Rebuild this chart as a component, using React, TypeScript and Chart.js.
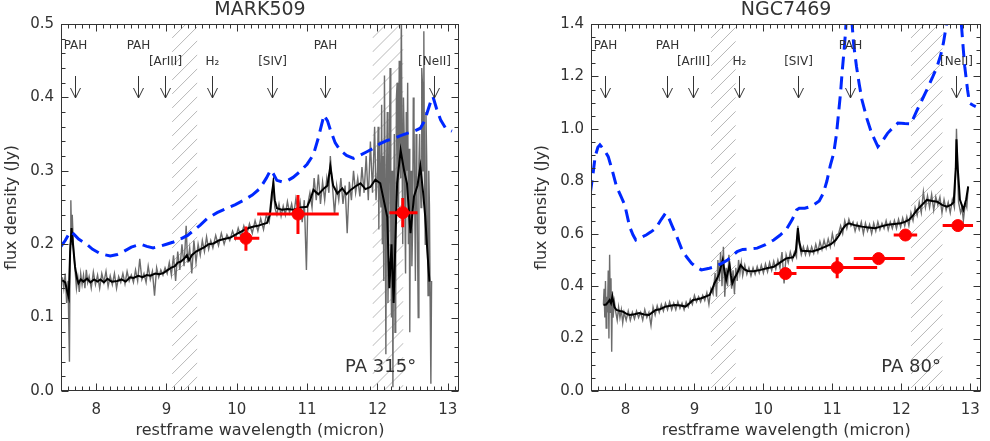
import { useEffect, useRef } from 'react';
import { Chart, registerables } from 'chart.js';

Chart.register(...registerables);

const FONT = '"DejaVu Sans", sans-serif';
const INK = '#333333';
const RED = '#ff0000';
const BLUE = 'rgb(0, 40, 255)';

type Pair = [number, number];

// marked spectral features (micron)
const featureNames = ['PAH', 'PAH', '[ArIII]', 'H₂', '[SIV]', 'PAH', '[NeII]'];
const featureWaves = [7.7, 8.6, 8.98, 9.65, 10.5, 11.25, 12.8];

const xTickLabels = [8, 9, 10, 11, 12, 13];

// ---------------- MARK509 ----------------
const mrkHatch: Pair[] = [[9.08, 9.44], [11.93, 12.37]];

// raw spectrum (grey)
const mrkRaw: Pair[] = [
  [7.52, 0.155], [7.54, 0.14], [7.56, 0.16], [7.58, 0.12], [7.6, 0.15], [7.62, 0.04], [7.63, 0.2],
  [7.64, 0.26], [7.65, 0.21], [7.66, 0.24], [7.68, 0.19], [7.7, 0.165], [7.72, 0.14], [7.74, 0.155],
  [7.76, 0.135], [7.78, 0.16], [7.8, 0.145], [7.82, 0.158], [7.84, 0.14], [7.86, 0.165], [7.88, 0.148],
  [7.9, 0.156], [7.93, 0.14], [7.96, 0.162], [7.99, 0.145], [8.02, 0.158], [8.05, 0.14], [8.08, 0.16],
  [8.11, 0.148], [8.14, 0.163], [8.17, 0.142], [8.2, 0.157], [8.23, 0.145], [8.26, 0.16], [8.29, 0.14],
  [8.32, 0.156], [8.35, 0.148], [8.38, 0.16], [8.41, 0.146], [8.44, 0.163], [8.47, 0.15], [8.5, 0.158],
  [8.53, 0.148], [8.56, 0.165], [8.59, 0.15], [8.62, 0.18], [8.65, 0.152], [8.68, 0.16], [8.71, 0.148],
  [8.74, 0.17], [8.77, 0.152], [8.8, 0.163], [8.83, 0.13], [8.86, 0.168], [8.89, 0.155], [8.92, 0.165],
  [8.95, 0.158], [8.98, 0.168], [9.01, 0.16], [9.04, 0.175], [9.07, 0.158], [9.1, 0.185], [9.13, 0.15],
  [9.16, 0.19], [9.19, 0.165], [9.22, 0.2], [9.25, 0.17], [9.28, 0.225], [9.3, 0.175], [9.33, 0.195],
  [9.36, 0.16], [9.39, 0.205], [9.42, 0.175], [9.45, 0.2], [9.48, 0.185], [9.51, 0.205], [9.54, 0.19],
  [9.57, 0.21], [9.6, 0.193], [9.63, 0.205], [9.66, 0.195], [9.7, 0.212], [9.74, 0.198], [9.78, 0.215],
  [9.82, 0.2], [9.86, 0.213], [9.9, 0.205], [9.94, 0.218], [9.98, 0.207], [10.02, 0.222], [10.06, 0.21],
  [10.1, 0.225], [10.14, 0.212], [10.18, 0.228], [10.22, 0.215], [10.26, 0.232], [10.3, 0.218],
  [10.34, 0.235], [10.38, 0.22], [10.42, 0.24], [10.46, 0.23], [10.5, 0.26], [10.52, 0.29], [10.54, 0.25],
  [10.57, 0.24], [10.6, 0.255], [10.63, 0.238], [10.66, 0.252], [10.69, 0.24], [10.72, 0.258],
  [10.75, 0.243], [10.78, 0.255], [10.81, 0.24], [10.84, 0.262], [10.87, 0.245], [10.9, 0.258],
  [10.93, 0.23], [10.96, 0.26], [10.99, 0.165], [11.01, 0.255], [11.04, 0.27], [11.07, 0.25], [11.1, 0.29],
  [11.13, 0.26], [11.16, 0.295], [11.19, 0.255], [11.22, 0.285], [11.25, 0.26], [11.28, 0.29], [11.31, 0.27],
  [11.33, 0.32], [11.36, 0.28], [11.39, 0.24], [11.42, 0.28], [11.45, 0.26], [11.48, 0.29], [11.51, 0.255],
  [11.54, 0.28], [11.57, 0.215], [11.6, 0.285], [11.63, 0.26], [11.66, 0.3], [11.69, 0.27], [11.72, 0.29],
  [11.75, 0.265], [11.78, 0.305], [11.81, 0.27], [11.84, 0.32], [11.87, 0.26], [11.9, 0.34], [11.93, 0.27],
  [11.96, 0.36], [11.98, 0.26], [12.0, 0.3], [12.01, 0.36], [12.02, 0.22], [12.03, 0.34], [12.04, 0.27],
  [12.05, 0.25], [12.06, 0.39], [12.07, 0.2], [12.08, 0.32], [12.09, 0.15], [12.1, 0.43], [12.11, 0.28],
  [12.12, 0.05], [12.13, 0.3], [12.14, 0.38], [12.15, 0.12], [12.16, 0.2], [12.17, 0.32], [12.18, 0.44],
  [12.19, 0.22], [12.2, 0.1], [12.21, 0.3], [12.22, 0.005], [12.23, 0.25], [12.24, 0.35], [12.25, 0.08],
  [12.26, 0.18], [12.27, 0.4], [12.28, 0.42], [12.29, 0.3], [12.3, 0.25], [12.31, 0.45], [12.32, 0.38],
  [12.33, 0.29], [12.34, 0.52], [12.35, 0.33], [12.36, 0.2], [12.37, 0.4], [12.38, 0.35], [12.39, 0.25],
  [12.4, 0.16], [12.41, 0.38], [12.42, 0.3], [12.43, 0.42], [12.44, 0.2], [12.45, 0.33], [12.46, 0.08],
  [12.47, 0.27], [12.48, 0.3], [12.49, 0.17], [12.5, 0.22], [12.51, 0.4], [12.52, 0.37], [12.53, 0.26],
  [12.54, 0.15], [12.55, 0.35], [12.56, 0.3], [12.57, 0.2], [12.58, 0.1], [12.59, 0.31], [12.6, 0.35],
  [12.61, 0.28], [12.62, 0.25], [12.63, 0.44], [12.64, 0.42], [12.65, 0.3], [12.66, 0.49], [12.67, 0.27],
  [12.68, 0.2], [12.69, 0.38], [12.7, 0.32], [12.71, 0.22], [12.72, 0.13], [12.73, 0.3], [12.74, 0.25],
  [12.75, 0.12], [12.76, 0.01], [12.77, 0.15],
];

// smoothed spectrum (black)
const mrkSmooth: Pair[] = [
  [7.52, 0.151], [7.56, 0.148], [7.59, 0.135], [7.61, 0.128], [7.63, 0.19], [7.65, 0.222], [7.67, 0.2],
  [7.7, 0.169], [7.73, 0.152], [7.75, 0.147], [7.78, 0.152], [7.82, 0.149], [7.87, 0.153], [7.92, 0.148],
  [7.97, 0.152], [8.02, 0.149], [8.06, 0.152], [8.11, 0.148], [8.16, 0.153], [8.22, 0.149], [8.3, 0.15],
  [8.36, 0.152], [8.42, 0.149], [8.48, 0.155], [8.53, 0.154], [8.6, 0.157], [8.66, 0.155], [8.72, 0.158],
  [8.77, 0.157], [8.84, 0.16], [8.9, 0.159], [8.96, 0.161], [9.02, 0.165], [9.07, 0.168], [9.12, 0.17],
  [9.16, 0.175], [9.2, 0.176], [9.25, 0.18], [9.29, 0.185], [9.32, 0.178], [9.36, 0.185], [9.42, 0.19],
  [9.48, 0.193], [9.54, 0.196], [9.6, 0.2], [9.67, 0.201], [9.74, 0.205], [9.82, 0.207], [9.91, 0.209],
  [10.0, 0.214], [10.1, 0.219], [10.17, 0.222], [10.24, 0.224], [10.3, 0.225], [10.36, 0.227],
  [10.43, 0.229], [10.47, 0.24], [10.5, 0.27], [10.52, 0.283], [10.54, 0.26], [10.57, 0.249],
  [10.64, 0.247], [10.72, 0.248], [10.81, 0.247], [10.9, 0.25], [11.0, 0.251], [11.05, 0.262],
  [11.09, 0.274], [11.16, 0.268], [11.24, 0.276], [11.29, 0.28], [11.33, 0.306], [11.37, 0.28],
  [11.43, 0.269], [11.5, 0.276], [11.56, 0.268], [11.62, 0.274], [11.69, 0.279], [11.76, 0.283],
  [11.83, 0.275], [11.9, 0.278], [11.97, 0.288], [12.04, 0.283], [12.09, 0.26], [12.14, 0.237],
  [12.17, 0.14], [12.2, 0.2], [12.23, 0.12], [12.28, 0.283], [12.33, 0.328], [12.38, 0.3], [12.42, 0.283],
  [12.47, 0.215], [12.52, 0.265], [12.57, 0.28], [12.61, 0.306], [12.65, 0.27], [12.68, 0.237],
  [12.71, 0.19], [12.74, 0.149],
];

// model (blue dashed)
const mrkModel: Pair[] = [
  [7.5, 0.197], [7.56, 0.205], [7.63, 0.217], [7.68, 0.214], [7.75, 0.207], [7.85, 0.201], [7.95, 0.193],
  [8.06, 0.187], [8.2, 0.184], [8.3, 0.186], [8.39, 0.19], [8.5, 0.196], [8.63, 0.2], [8.72, 0.197],
  [8.81, 0.195], [8.9, 0.197], [9.0, 0.2], [9.1, 0.203], [9.2, 0.207], [9.3, 0.212], [9.39, 0.219],
  [9.48, 0.226], [9.58, 0.235], [9.72, 0.243], [9.86, 0.249], [9.98, 0.254], [10.1, 0.26], [10.22, 0.267],
  [10.33, 0.276], [10.42, 0.29], [10.48, 0.301], [10.52, 0.296], [10.57, 0.287], [10.64, 0.285],
  [10.71, 0.286], [10.8, 0.291], [10.9, 0.299], [11.0, 0.309], [11.09, 0.322], [11.16, 0.345],
  [11.24, 0.376], [11.29, 0.368], [11.33, 0.356], [11.4, 0.338], [11.47, 0.328], [11.56, 0.321],
  [11.66, 0.317], [11.75, 0.321], [11.85, 0.326], [11.95, 0.331], [12.04, 0.337], [12.13, 0.341],
  [12.23, 0.344], [12.33, 0.348], [12.42, 0.351], [12.52, 0.354], [12.61, 0.358], [12.67, 0.368],
  [12.71, 0.38], [12.76, 0.395], [12.79, 0.401], [12.84, 0.385], [12.9, 0.369], [12.97, 0.358],
  [13.06, 0.354],
];

// photometry (red)
const mrkPhotWave = [10.13, 10.87, 12.36];
const mrkPhotFlux = [0.208, 0.241, 0.243];
const mrkPhotWaveLo = [9.96, 10.29, 12.17];
const mrkPhotWaveHi = [10.32, 11.45, 12.57];
const mrkPhotFluxLo = [0.191, 0.214, 0.223];
const mrkPhotFluxHi = [0.224, 0.267, 0.263];

// ---------------- NGC7469 ----------------
const ngcHatch: Pair[] = [[9.24, 9.6], [12.14, 12.6]];

const ngcRaw: Pair[] = [
  [7.68, 0.33], [7.69, 0.39], [7.7, 0.28], [7.71, 0.42], [7.72, 0.24], [7.73, 0.36], [7.74, 0.3],
  [7.75, 0.46], [7.76, 0.2], [7.77, 0.52], [7.78, 0.3], [7.79, 0.43], [7.8, 0.15], [7.81, 0.38],
  [7.82, 0.28], [7.84, 0.34], [7.86, 0.3], [7.88, 0.27], [7.9, 0.32], [7.92, 0.28], [7.94, 0.31],
  [7.96, 0.26], [7.98, 0.3], [8.01, 0.27], [8.04, 0.305], [8.07, 0.27], [8.1, 0.3], [8.13, 0.275],
  [8.16, 0.305], [8.19, 0.28], [8.22, 0.3], [8.25, 0.27], [8.28, 0.31], [8.31, 0.28], [8.34, 0.3],
  [8.37, 0.25], [8.4, 0.32], [8.43, 0.29], [8.46, 0.325], [8.49, 0.3], [8.52, 0.33], [8.55, 0.305],
  [8.58, 0.335], [8.61, 0.31], [8.64, 0.34], [8.67, 0.31], [8.7, 0.335], [8.73, 0.31], [8.76, 0.34],
  [8.79, 0.315], [8.82, 0.335], [8.85, 0.31], [8.88, 0.34], [8.91, 0.32], [8.94, 0.35], [8.97, 0.33],
  [9.0, 0.365], [9.03, 0.34], [9.06, 0.36], [9.09, 0.34], [9.12, 0.365], [9.15, 0.345], [9.18, 0.375],
  [9.21, 0.33], [9.24, 0.39], [9.27, 0.37], [9.3, 0.45], [9.32, 0.36], [9.34, 0.5], [9.36, 0.42],
  [9.38, 0.53], [9.4, 0.4], [9.42, 0.55], [9.44, 0.36], [9.46, 0.47], [9.48, 0.4], [9.5, 0.52],
  [9.52, 0.44], [9.54, 0.39], [9.56, 0.46], [9.58, 0.37], [9.6, 0.47], [9.62, 0.42], [9.64, 0.5],
  [9.66, 0.45], [9.68, 0.49], [9.7, 0.44], [9.73, 0.48], [9.76, 0.445], [9.79, 0.47], [9.82, 0.44],
  [9.85, 0.47], [9.88, 0.445], [9.91, 0.475], [9.94, 0.45], [9.97, 0.48], [10.0, 0.45], [10.03, 0.485],
  [10.06, 0.455], [10.09, 0.49], [10.12, 0.46], [10.15, 0.495], [10.18, 0.465], [10.21, 0.5],
  [10.24, 0.47], [10.27, 0.53], [10.3, 0.41], [10.33, 0.52], [10.36, 0.49], [10.39, 0.53], [10.42, 0.5],
  [10.45, 0.53], [10.48, 0.51], [10.5, 0.63], [10.52, 0.56], [10.55, 0.52], [10.58, 0.55], [10.61, 0.52],
  [10.64, 0.55], [10.67, 0.52], [10.7, 0.55], [10.73, 0.525], [10.76, 0.56], [10.79, 0.53], [10.82, 0.57],
  [10.85, 0.54], [10.88, 0.575], [10.91, 0.545], [10.94, 0.58], [10.97, 0.55], [11.0, 0.6], [11.03, 0.56],
  [11.06, 0.595], [11.09, 0.6], [11.12, 0.63], [11.15, 0.6], [11.18, 0.65], [11.21, 0.62], [11.24, 0.655],
  [11.27, 0.63], [11.3, 0.645], [11.33, 0.61], [11.36, 0.64], [11.39, 0.615], [11.42, 0.645], [11.45, 0.6],
  [11.48, 0.64], [11.51, 0.61], [11.54, 0.635], [11.57, 0.6], [11.6, 0.64], [11.63, 0.61], [11.66, 0.645],
  [11.69, 0.615], [11.72, 0.64], [11.75, 0.62], [11.78, 0.65], [11.81, 0.615], [11.84, 0.645],
  [11.87, 0.62], [11.9, 0.65], [11.93, 0.62], [11.96, 0.655], [11.99, 0.625], [12.02, 0.66], [12.05, 0.63],
  [12.08, 0.665], [12.11, 0.63], [12.14, 0.68], [12.17, 0.65], [12.2, 0.7], [12.23, 0.67], [12.26, 0.72],
  [12.29, 0.68], [12.32, 0.76], [12.35, 0.7], [12.38, 0.745], [12.41, 0.7], [12.44, 0.75], [12.47, 0.69],
  [12.5, 0.74], [12.53, 0.71], [12.56, 0.74], [12.59, 0.68], [12.62, 0.73], [12.65, 0.69], [12.68, 0.72],
  [12.71, 0.68], [12.74, 0.73], [12.77, 0.7], [12.79, 0.85], [12.8, 1.0], [12.81, 0.9], [12.83, 0.72],
  [12.86, 0.68], [12.88, 0.7], [12.9, 0.65], [12.93, 0.72], [12.95, 0.7], [12.97, 0.78],
];

const ngcSmooth: Pair[] = [
  [7.68, 0.328], [7.72, 0.33], [7.75, 0.34], [7.77, 0.347], [7.79, 0.335], [7.81, 0.36], [7.84, 0.32],
  [7.87, 0.309], [7.92, 0.305], [7.96, 0.303], [8.01, 0.295], [8.06, 0.29], [8.13, 0.293], [8.2, 0.297],
  [8.27, 0.292], [8.34, 0.29], [8.39, 0.3], [8.44, 0.309], [8.5, 0.312], [8.58, 0.322], [8.65, 0.325],
  [8.72, 0.328], [8.8, 0.326], [8.87, 0.322], [8.93, 0.335], [8.98, 0.347], [9.04, 0.35], [9.1, 0.354],
  [9.16, 0.36], [9.22, 0.366], [9.26, 0.39], [9.29, 0.411], [9.33, 0.43], [9.36, 0.449], [9.38, 0.47],
  [9.41, 0.5], [9.44, 0.45], [9.46, 0.424], [9.49, 0.46], [9.51, 0.481], [9.53, 0.44], [9.55, 0.411],
  [9.58, 0.43], [9.62, 0.449], [9.67, 0.48], [9.72, 0.465], [9.77, 0.458], [9.86, 0.457], [9.96, 0.462],
  [10.05, 0.468], [10.15, 0.474], [10.24, 0.49], [10.33, 0.506], [10.43, 0.51], [10.47, 0.53],
  [10.5, 0.621], [10.52, 0.57], [10.55, 0.535], [10.63, 0.534], [10.71, 0.532], [10.8, 0.54],
  [10.9, 0.551], [10.98, 0.56], [11.05, 0.576], [11.1, 0.595], [11.14, 0.615], [11.19, 0.632],
  [11.24, 0.64], [11.33, 0.632], [11.43, 0.627], [11.52, 0.624], [11.62, 0.621], [11.71, 0.628],
  [11.8, 0.634], [11.9, 0.637], [11.99, 0.64], [12.05, 0.645], [12.11, 0.653], [12.17, 0.67],
  [12.23, 0.691], [12.3, 0.71], [12.37, 0.729], [12.45, 0.725], [12.52, 0.722], [12.59, 0.71],
  [12.66, 0.703], [12.72, 0.71], [12.76, 0.72], [12.79, 0.85], [12.8, 0.96], [12.82, 0.844],
  [12.85, 0.73], [12.9, 0.691], [12.94, 0.73], [12.97, 0.78],
];

const ngcModel: Pair[] = [
  [7.49, 0.755], [7.53, 0.83], [7.56, 0.894], [7.6, 0.93], [7.63, 0.939], [7.69, 0.92], [7.75, 0.894],
  [7.81, 0.84], [7.87, 0.78], [7.93, 0.745], [7.99, 0.71], [8.06, 0.627], [8.11, 0.595], [8.15, 0.576],
  [8.22, 0.585], [8.3, 0.595], [8.37, 0.607], [8.44, 0.621], [8.52, 0.655], [8.58, 0.678], [8.62, 0.665],
  [8.67, 0.634], [8.75, 0.585], [8.82, 0.538], [8.89, 0.51], [8.96, 0.487], [9.03, 0.472], [9.1, 0.462],
  [9.2, 0.467], [9.29, 0.474], [9.39, 0.486], [9.48, 0.5], [9.55, 0.515], [9.62, 0.532], [9.7, 0.54],
  [9.8, 0.542], [9.91, 0.545], [10.03, 0.558], [10.15, 0.576], [10.24, 0.594], [10.33, 0.615],
  [10.42, 0.655], [10.48, 0.69], [10.52, 0.697], [10.6, 0.697], [10.7, 0.705], [10.81, 0.725],
  [10.87, 0.755], [10.92, 0.8], [10.97, 0.86], [11.02, 0.907], [11.06, 0.98], [11.09, 1.06], [11.12, 1.14],
  [11.14, 1.21], [11.17, 1.3], [11.19, 1.365], [11.22, 1.5], [11.25, 1.55], [11.28, 1.42], [11.31, 1.32],
  [11.35, 1.238], [11.39, 1.17], [11.43, 1.11], [11.5, 1.04], [11.57, 0.983], [11.62, 0.955],
  [11.66, 0.932], [11.73, 0.955], [11.8, 0.983], [11.88, 1.005], [11.95, 1.022], [12.05, 1.02],
  [12.14, 1.019], [12.23, 1.072], [12.3, 1.11], [12.37, 1.149], [12.45, 1.195], [12.52, 1.238],
  [12.57, 1.28], [12.61, 1.327], [12.65, 1.39], [12.68, 1.45], [12.72, 1.6], [12.78, 1.7], [12.84, 1.6],
  [12.87, 1.403], [12.9, 1.3], [12.92, 1.238], [12.96, 1.15], [12.99, 1.098], [13.04, 1.09],
  [13.08, 1.085],
];

const ngcPhotWave = [10.32, 11.07, 11.67, 12.06, 12.82];
const ngcPhotFlux = [0.448, 0.471, 0.505, 0.595, 0.631];
const ngcPhotWaveLo = [10.15, 10.48, 11.31, 11.89, 12.6];
const ngcPhotWaveHi = [10.48, 11.65, 12.05, 12.23, 13.04];
const ngcPhotFluxLo = [0.44, 0.43, 0.495, 0.595, 0.631];
const ngcPhotFluxHi = [0.455, 0.51, 0.515, 0.595, 0.631];

interface PanelSpec {
  title: string;
  yMax: number;
  yStep: number;
  yMinor: number;
  hatch: Pair[];
  raw: Pair[];
  smooth: Pair[];
  model: Pair[];
  photWave: number[];
  photFlux: number[];
  photWaveLo: number[];
  photWaveHi: number[];
  photFluxLo: number[];
  photFluxHi: number[];
  pa: string;
  paWave: number;
}

const mrkPanel: PanelSpec = {
  title: 'MARK509', yMax: 0.5, yStep: 0.1, yMinor: 0.02, hatch: mrkHatch,
  raw: mrkRaw, smooth: mrkSmooth, model: mrkModel,
  photWave: mrkPhotWave, photFlux: mrkPhotFlux, photWaveLo: mrkPhotWaveLo, photWaveHi: mrkPhotWaveHi,
  photFluxLo: mrkPhotFluxLo, photFluxHi: mrkPhotFluxHi,
  pa: 'PA 315°', paWave: 11.54,
};

const ngcPanel: PanelSpec = {
  title: 'NGC7469', yMax: 1.4, yStep: 0.2, yMinor: 0.05, hatch: ngcHatch,
  raw: ngcRaw, smooth: ngcSmooth, model: ngcModel,
  photWave: ngcPhotWave, photFlux: ngcPhotFlux, photWaveLo: ngcPhotWaveLo, photWaveHi: ngcPhotWaveHi,
  photFluxLo: ngcPhotFluxLo, photFluxHi: ngcPhotFluxHi,
  pa: 'PA 80°', paWave: 11.71,
};

const toPoints = (d: Pair[]) => d.map(([x, y]) => ({ x, y }));

function SpectrumPanel({ spec, left, padLeft, padRight }: { spec: PanelSpec; left: number; padLeft: number; padRight: number }) {
  const canvasRef = useRef<HTMLCanvasElement | null>(null);

  useEffect(() => {
    if (!canvasRef.current) return;
    const s = spec;

    const overlay = {
      id: 'overlay',
      beforeDatasetsDraw(chart: any) {
        const { ctx, chartArea: a } = chart;
        const x = chart.scales.x;
        ctx.save();
        ctx.strokeStyle = '#b8b8b8';
        ctx.lineWidth = 1;
        for (const [w0, w1] of s.hatch) {
          const x0 = x.getPixelForValue(w0);
          const x1 = x.getPixelForValue(w1);
          const w = x1 - x0;
          ctx.save();
          ctx.beginPath();
          ctx.rect(x0, a.top, w, a.bottom - a.top);
          ctx.clip();
          ctx.beginPath();
          for (let yy = a.top - w; yy < a.bottom + w; yy += 14) {
            ctx.moveTo(x0, yy + w);
            ctx.lineTo(x1, yy);
          }
          ctx.stroke();
          ctx.restore();
        }
        ctx.restore();
      },
      afterDatasetsDraw(chart: any) {
        const { ctx } = chart;
        const x = chart.scales.x;
        const y = chart.scales.y;
        ctx.save();
        ctx.strokeStyle = RED;
        ctx.lineWidth = 3;
        ctx.beginPath();
        s.photWave.forEach((w, i) => {
          const py = y.getPixelForValue(s.photFlux[i]);
          ctx.moveTo(x.getPixelForValue(s.photWaveLo[i]), py);
          ctx.lineTo(x.getPixelForValue(s.photWaveHi[i]), py);
          const pxx = x.getPixelForValue(w);
          ctx.moveTo(pxx, y.getPixelForValue(s.photFluxLo[i]));
          ctx.lineTo(pxx, y.getPixelForValue(s.photFluxHi[i]));
        });
        ctx.stroke();
        ctx.restore();
      },
      afterDraw(chart: any) {
        const { ctx, chartArea: a } = chart;
        const x = chart.scales.x;
        const y = chart.scales.y;
        ctx.save();
        ctx.strokeStyle = INK;
        ctx.lineWidth = 1;
        const L = Math.round(a.left) + 0.5;
        const R = Math.round(a.right) - 0.5;
        const T = Math.round(a.top) + 0.5;
        const B = Math.round(a.bottom) - 0.5;
        ctx.strokeRect(L, T, R - L, B - T);
        ctx.beginPath();
        for (let i = 75; i <= 131; i++) {
          const xx = Math.round(x.getPixelForValue(i / 10)) + 0.5;
          const len = i % 10 === 0 ? 7 : 4;
          ctx.moveTo(xx, B); ctx.lineTo(xx, B - len);
          ctx.moveTo(xx, T); ctx.lineTo(xx, T + len);
        }
        const nY = Math.round(s.yMax / s.yMinor);
        const per = Math.round(s.yStep / s.yMinor);
        for (let j = 0; j <= nY; j++) {
          const yy = Math.round(y.getPixelForValue(j * s.yMinor)) + 0.5;
          const len = j % per === 0 ? 7 : 4;
          ctx.moveTo(L, yy); ctx.lineTo(L + len, yy);
          ctx.moveTo(R, yy); ctx.lineTo(R - len, yy);
        }
        ctx.stroke();

        // feature markers
        ctx.fillStyle = INK;
        ctx.textAlign = 'center';
        ctx.textBaseline = 'middle';
        ctx.font = `12px ${FONT}`;
        ctx.beginPath();
        featureNames.forEach((name, i) => {
          const fx = Math.round(x.getPixelForValue(featureWaves[i])) + 0.5;
          ctx.fillText(name, fx, name === 'PAH' ? 46 : 62);
          ctx.moveTo(fx, 76); ctx.lineTo(fx, 98);
          ctx.moveTo(fx - 5, 88); ctx.lineTo(fx, 98); ctx.lineTo(fx + 5, 88);
        });
        ctx.stroke();

        // titles
        const cx = (a.left + a.right) / 2;
        ctx.font = `19px ${FONT}`;
        ctx.fillText(s.title, cx, 10);
        ctx.font = `16px ${FONT}`;
        ctx.fillText('restframe wavelength (micron)', cx, 431);
        ctx.save();
        ctx.translate(a.left - 49, (a.top + a.bottom) / 2);
        ctx.rotate(-Math.PI / 2);
        ctx.fillText('flux density (Jy)', 0, 0);
        ctx.restore();
        ctx.font = `18px ${FONT}`;
        ctx.textAlign = 'left';
        ctx.fillText(s.pa, x.getPixelForValue(s.paWave), a.bottom - 24);
        ctx.restore();
      },
    };

    const yTicks: number[] = [];
    for (let v = 0; v <= s.yMax + 1e-9; v += s.yStep) yTicks.push(Math.round(v * 10) / 10);

    const chart = new Chart(canvasRef.current, {
      type: 'scatter',
      data: {
        datasets: [
          {
            data: s.photWave.map((w, i) => ({ x: w, y: s.photFlux[i] })),
            backgroundColor: RED,
            borderColor: RED,
            pointRadius: 6,
            order: 0,
          },
          {
            data: toPoints(s.model),
            showLine: true,
            borderColor: BLUE,
            borderWidth: 3,
            borderDash: [13, 7],
            pointRadius: 0,
            order: 1,
          },
          {
            data: toPoints(s.smooth),
            showLine: true,
            borderColor: '#000000',
            borderWidth: 2,
            pointRadius: 0,
            order: 2,
          },
          {
            data: toPoints(s.raw),
            showLine: true,
            borderColor: '#6c6c6c',
            borderWidth: 1.4,
            pointRadius: 0,
            order: 3,
          },
        ],
      },
      options: {
        animation: false,
        responsive: false,
        maintainAspectRatio: false,
        layout: { padding: { left: padLeft, right: padRight, top: 24, bottom: 0 } },
        plugins: { legend: { display: false }, tooltip: { enabled: false } },
        scales: {
          x: {
            type: 'linear',
            min: 7.5,
            max: 13.16,
            grid: { display: false, drawTicks: false },
            border: { display: false },
            afterBuildTicks: (sc: any) => { sc.ticks = xTickLabels.map((v) => ({ value: v })); },
            afterFit: (sc: any) => { sc.height = 50; },
            ticks: { color: INK, font: { family: FONT, size: 15 }, padding: 10, maxRotation: 0, callback: (v: any) => String(v) },
          },
          y: {
            type: 'linear',
            min: 0,
            max: s.yMax,
            grid: { display: false, drawTicks: false },
            border: { display: false },
            afterBuildTicks: (sc: any) => { sc.ticks = yTicks.map((v) => ({ value: v })); },
            afterFit: (sc: any) => { sc.width = 61; },
            ticks: { color: INK, font: { family: FONT, size: 15 }, padding: 7, callback: (v: any) => Number(v).toFixed(1) },
          },
        },
      },
      plugins: [overlay],
    } as any);

    return () => chart.destroy();
  }, [spec, padLeft, padRight]);

  return (
    <div style={{ position: 'absolute', left, top: 0, width: 495, height: 441 }}>
      <canvas ref={canvasRef} width={495} height={441} style={{ width: 495, height: 441, display: 'block' }} />
    </div>
  );
}

export default function App() {
  return (
    <div style={{ position: 'absolute', left: 0, top: 0, width: 990, height: 441, background: '#fff', overflow: 'hidden' }}>
      <SpectrumPanel spec={mrkPanel} left={0} padLeft={0} padRight={36} />
      <SpectrumPanel spec={ngcPanel} left={495} padLeft={35} padRight={1} />
    </div>
  );
}
